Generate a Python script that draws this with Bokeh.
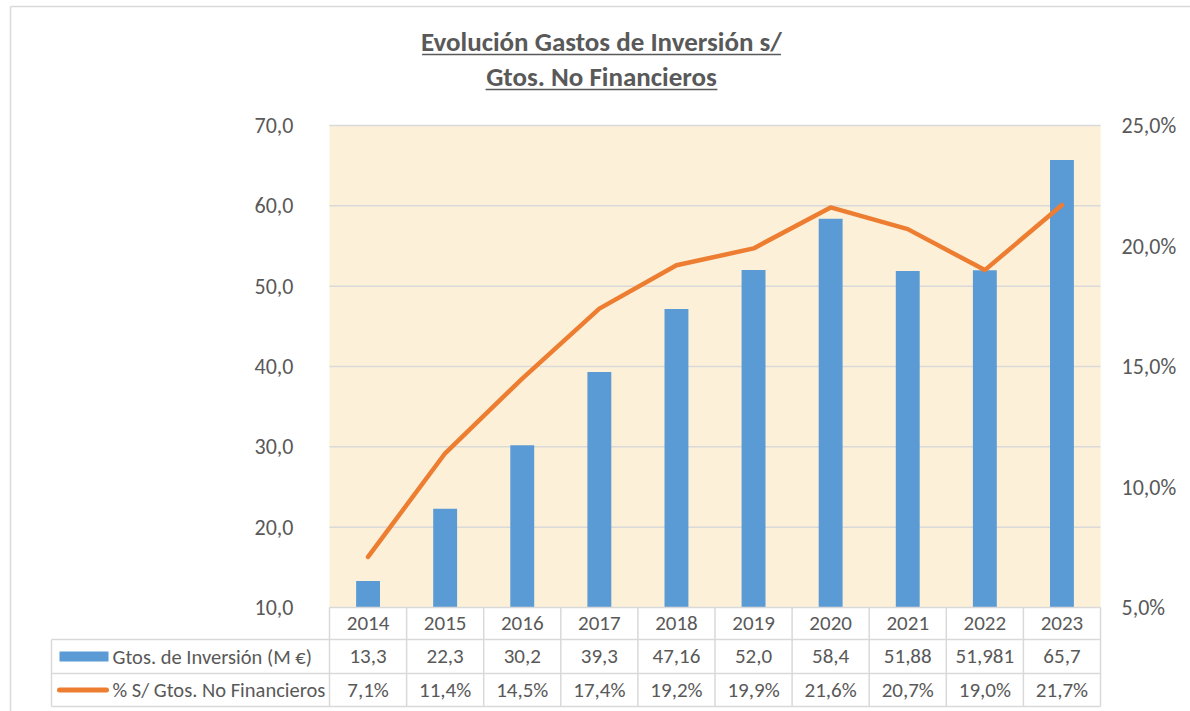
from bokeh.plotting import figure
from bokeh.models import Range1d
from bokeh.core.properties import value
from bokeh.embed import file_html
from bokeh.resources import INLINE

# ---------------- data ----------------
years = ["2014", "2015", "2016", "2017", "2018", "2019", "2020", "2021", "2022", "2023"]
inversion = [13.3, 22.3, 30.2, 39.3, 47.16, 52.0, 58.4, 51.88, 51.981, 65.7]
inversion_labels = ["13,3", "22,3", "30,2", "39,3", "47,16", "52,0", "58,4", "51,88", "51,981", "65,7"]
pct = [7.1, 11.4, 14.5, 17.4, 19.2, 19.9, 21.6, 20.7, 19.0, 21.7]
pct_labels = ["7,1%", "11,4%", "14,5%", "17,4%", "19,2%", "19,9%", "21,6%", "20,7%", "19,0%", "21,7%"]
left_ticks = [10, 20, 30, 40, 50, 60, 70]
right_ticks = [5, 10, 15, 20, 25]
title_lines = ["Evolución Gastos de Inversión s/", "Gtos. No Financieros"]
series_names = ["Gtos. de Inversión (M €)", "% S/ Gtos. No Financieros"]

# ---------------- layout / style ----------------
W, H = 1190, 711          # canvas size
OX, OY = 0, 0             # canvas offset in the picture
PLOT_L, PLOT_R = 329, 1100
PLOT_T, PLOT_B = 125, 607
Y_MIN, Y_MAX = 10, 70
P_MIN, P_MAX = 5, 25
N = len(years)

col_w = (PLOT_R - PLOT_L) / N
unit_y = (PLOT_B - PLOT_T) / (Y_MAX - Y_MIN)
unit_p = (PLOT_B - PLOT_T) / (P_MAX - P_MIN)

def X(px):
    return (px - PLOT_L) / col_w

def Y(py):
    return Y_MIN + (PLOT_B - py) / unit_y

def P(py):
    return P_MIN + (PLOT_B - py) / unit_p

FONT = value("Carlito, Lato")
TXT = "#595959"
GRID = "#D9D9D9"
BLUE = "#5B9BD5"
ORANGE = "#ED7D31"
BEIGE = "#FCF0D8"

p = figure(width=W, height=H,
           x_range=Range1d(X(OX), X(OX + W)),
           y_range=Range1d(Y(OY + H), Y(OY)),
           x_axis_location=None, y_axis_location=None,
           output_backend="svg", toolbar_location=None, min_border=0)
p.extra_y_ranges = {"pct": Range1d(P(OY + H), P(OY))}
p.grid.visible = False
p.outline_line_color = None
p.background_fill_color = "white"
p.border_fill_color = "white"

centers = [i + 0.5 for i in range(N)]

# outer chart border (left and top)
p.segment(x0=[X(10), X(10)], y0=[Y(OY + H), Y(6)],
          x1=[X(10), X(OX + W)], y1=[Y(6), Y(6)],
          line_color=GRID, line_width=1.5)

# plot area background
p.quad(left=0, right=N, bottom=Y_MIN, top=Y_MAX, fill_color=BEIGE, line_color=None)

# gridlines
grid_ticks = [t for t in left_ticks if t > Y_MIN]
p.segment(x0=[0] * len(grid_ticks), x1=[N] * len(grid_ticks), y0=grid_ticks, y1=grid_ticks,
          line_color=GRID, line_width=1.5)

# bars
p.vbar(x=centers, width=0.31, bottom=Y_MIN, top=inversion, fill_color=BLUE, line_color=None)

# line
p.line(x=centers, y=pct, y_range_name="pct", line_color=ORANGE, line_width=4.5,
       line_cap="round", line_join="round")

# left tick labels
p.text(x=[X(293)] * len(left_ticks), y=left_ticks,
       text=[f"{t:.1f}".replace(".", ",") for t in left_ticks],
       text_align="right", text_baseline="middle", text_font=FONT,
       text_font_size="22px", text_color=TXT)

# right tick labels
p.text(x=[X(1121)] * len(right_ticks), y=right_ticks, y_range_name="pct",
       text=[f"{t:.1f}%".replace(".", ",") for t in right_ticks],
       text_align="left", text_baseline="middle", text_font=FONT,
       text_font_size="22px", text_color=TXT)

# ---------------- data table ----------------
ROW0_T, ROW1_T, ROW2_T, ROW2_B = 607, 639, 673, 706
LEG_L = 51
p.segment(x0=[0, X(LEG_L), X(LEG_L), X(LEG_L)],
          y0=[Y(ROW0_T), Y(ROW1_T), Y(ROW2_T), Y(ROW2_B)],
          x1=[N] * 4,
          y1=[Y(ROW0_T), Y(ROW1_T), Y(ROW2_T), Y(ROW2_B)],
          line_color=GRID, line_width=1.5)
vx = list(range(N + 1))
p.segment(x0=vx, x1=vx, y0=[Y(ROW0_T)] * len(vx), y1=[Y(ROW2_B)] * len(vx),
          line_color=GRID, line_width=1.5)
p.segment(x0=[X(LEG_L)], x1=[X(LEG_L)], y0=[Y(ROW1_T)], y1=[Y(ROW2_B)],
          line_color=GRID, line_width=1.5)

row_y = [Y((ROW0_T + ROW1_T) / 2), Y((ROW1_T + ROW2_T) / 2), Y((ROW2_T + ROW2_B) / 2)]
for texts, yy in zip([years, inversion_labels, pct_labels], row_y):
    p.text(x=centers, y=[yy] * N, text=texts, text_align="center", text_baseline="middle",
           text_font=FONT, text_font_size="21px", text_color=TXT)

# legend keys
p.quad(left=[X(59)], right=[X(108)], top=[Y(651)], bottom=[Y(661)],
       fill_color=BLUE, line_color=None)
p.line(x=[X(59), X(106)], y=[row_y[2], row_y[2]], line_color=ORANGE, line_width=5,
       line_cap="round")
p.text(x=[X(112), X(112)], y=[row_y[1], row_y[2]], text=series_names,
       text_align="left", text_baseline="middle", text_font=FONT,
       text_font_size="20.5px", text_color=TXT)

# ---------------- title ----------------
TITLE_CX = 601
TITLE_SIZE = 27
title_w = [319 / 24 * TITLE_SIZE, 206 / 24 * TITLE_SIZE]   # rendered widths of the two lines
p.text(x=[X(TITLE_CX)] * 2, y=[Y(40.5), Y(75.5)], text=title_lines,
       text_align="center", text_baseline="middle", text_font=FONT,
       text_font_size=f"{TITLE_SIZE}px", text_font_style="bold", text_color=TXT)
p.segment(x0=[X(TITLE_CX - w / 2) for w in title_w],
          x1=[X(TITLE_CX + w / 2) for w in title_w],
          y0=[Y(54), Y(89)], y1=[Y(54), Y(89)],
          line_color=TXT, line_width=1.6)

open("out.html", "w").write(file_html(p, INLINE))
